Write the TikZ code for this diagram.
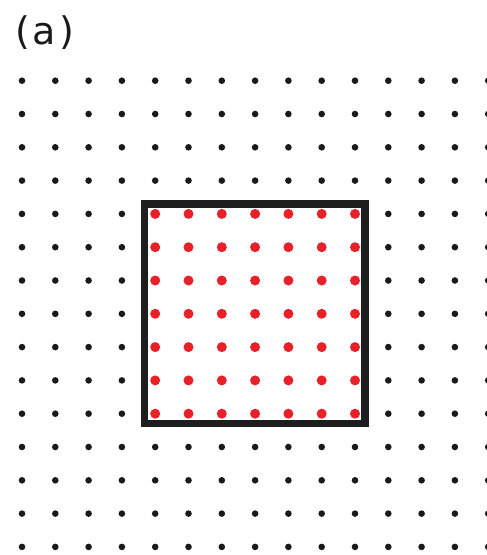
\documentclass[tikz,border=0pt]{standalone}
\usepackage{fontspec}
\setmainfont{DejaVu Sans}
\definecolor{dotred}{HTML}{E8202A}
\definecolor{dotblack}{HTML}{1A1A1A}
\definecolor{framec}{HTML}{1E1E1E}
\begin{document}
\begin{tikzpicture}[x=1pt,y=-1pt,
  blackdot/.style={fill=dotblack},
  reddot/.style={fill=dotred},
  frame/.style={draw=framec,line width=7.5pt}]
\useasboundingbox (0,0) rectangle (487,555);
\foreach \i in {0,...,14}{
  \foreach \j in {0,...,14}{
    \pgfmathtruncatemacro\inside{(\i>3)&&(\i<11)&&(\j>3)&&(\j<11)}
    \ifnum\inside=1
      \fill[reddot] (22+33.3*\i,80.7+33.3*\j) circle (5);
    \else
      \fill[blackdot] (22+33.3*\i,80.7+33.3*\j) circle (3.3);
    \fi
  }
}
\draw[frame] (144.5,204) rectangle (365,423.5);
\node[anchor=base west,inner sep=0pt,font=\fontsize{38}{45}\selectfont,text=dotblack] (lbl) at (15,44) {(\kern3pt a\kern3pt)};
\end{tikzpicture}
\end{document}
